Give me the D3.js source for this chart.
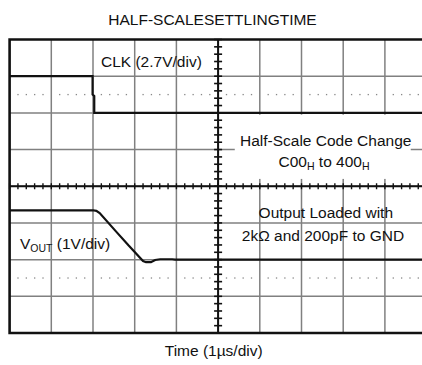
<!DOCTYPE html>
<html><head><meta charset="utf-8">
<script src="https://cdn.jsdelivr.net/npm/d3@7"></script>
<style>body{margin:0;background:#fff}svg{display:block}text{font-family:"Liberation Sans",Arial,sans-serif;fill:#111}</style>
</head><body>
<script>
// time axis in divisions (1 µs/div), level in divisions
const timeDivs = [0,1,2,3,4,5,6,7,8,9,10];
const levelDivs = [-4,-3,-2,-1,0,1,2,3,4];
const clkTime  = [0, 1.99, 1.99, 2.03, 2.03, 10.3];
const clkLevel = [3, 3, 2.5, 2.46, 2.0, 2.0];
const voutTime  = [0, 2.0, 2.08, 2.16, 2.55, 2.85, 2.9, 3.2, 3.27, 3.39, 3.49, 3.61, 3.9, 3.97, 10.3];
const voutLevel = [-0.655, -0.655, -0.67, -0.73, -1.23, -1.61, -1.67, -2.04, -2.07, -2.07, -2.01, -1.99, -1.99, -2.0, -2.0];
const dottedLevels = [2.5, -2.5];
const titleText = "HALF-SCALESETTLINGTIME";
const xLabel = "Time (1\u00B5s/div)";

const W = 422, H = 365;
const svg = d3.select("body").append("svg").attr("width", W).attr("height", H);
const x = d3.scaleLinear().domain([0, 10]).range([9.6, 426.6]);
const y = d3.scaleLinear().domain([-4, 4]).range([333, 39.5]);
const grid = "#808080";

// gridlines
svg.append("g").selectAll("line").data(timeDivs.slice(1)).join("line")
  .attr("x1", d => x(d)).attr("x2", d => x(d)).attr("y1", y(4)).attr("y2", y(-4))
  .attr("stroke", grid).attr("stroke-width", 1.5);
svg.append("g").selectAll("line").data(levelDivs.slice(1, -1)).join("line")
  .attr("x1", x(0)).attr("x2", W).attr("y1", d => y(d)).attr("y2", d => y(d))
  .attr("stroke", grid).attr("stroke-width", 1.5);

// dotted rows
const subs = d3.range(0, 10.01, 0.2).filter(t => Math.abs(t - Math.round(t)) > 0.01);
dottedLevels.forEach(l => {
  svg.append("g").selectAll("rect").data(subs).join("rect")
    .attr("x", d => x(d) - 0.6).attr("y", y(l) - 0.6).attr("width", 1.3).attr("height", 1.3)
    .attr("fill", "#888");
});

// center axes with ticks
svg.append("line").attr("x1", x(5)).attr("x2", x(5)).attr("y1", y(4)).attr("y2", y(-4))
  .attr("stroke", "#111").attr("stroke-width", 2);
svg.append("line").attr("x1", x(0)).attr("x2", W).attr("y1", y(0)).attr("y2", y(0))
  .attr("stroke", "#111").attr("stroke-width", 2);
const ySubs = d3.range(-4, 4.01, 0.2);
svg.append("g").selectAll("line").data(ySubs).join("line")
  .attr("x1", x(5) - 4).attr("x2", x(5) + 4).attr("y1", d => y(d)).attr("y2", d => y(d))
  .attr("stroke", "#111").attr("stroke-width", 1.6);
const xSubs = d3.range(0, 10.01, 0.2);
svg.append("g").selectAll("line").data(xSubs).join("line")
  .attr("x1", d => x(d)).attr("x2", d => x(d)).attr("y1", y(0) - 3).attr("y2", y(0) + 3)
  .attr("stroke", "#111").attr("stroke-width", 1.4);

// white box behind the code-change note
svg.append("rect").attr("x", x(5.4)).attr("y", y(1.95)).attr("width", x(9.62) - x(5.4))
  .attr("height", y(0.2) - y(1.95)).attr("fill", "#fff");

// traces
const line = d3.line().x(d => x(d[0])).y(d => y(d[1]));
svg.append("path").datum(d3.zip(clkTime, clkLevel)).attr("d", line)
  .attr("fill", "none").attr("stroke", "#111").attr("stroke-width", 2.2);
svg.append("path").datum(d3.zip(voutTime, voutLevel)).attr("d", line)
  .attr("fill", "none").attr("stroke", "#111").attr("stroke-width", 2.2);

// border
svg.append("path").attr("d", `M${W},${y(4)}H${x(0)}V${y(-4)}H${W}`)
  .attr("fill", "none").attr("stroke", "#111").attr("stroke-width", 2.6);

// texts
const fs = 15.5;
svg.append("text").attr("x", 212.5).attr("y", 25).attr("text-anchor", "middle").attr("font-size", fs).text(titleText);
svg.append("text").attr("x", 213.7).attr("y", 356).attr("text-anchor", "middle").attr("font-size", fs).text(xLabel);
svg.append("text").attr("x", 101).attr("y", 66.7).attr("font-size", fs).text("CLK (2.7V/div)");
const v = svg.append("text").attr("x", 20).attr("y", 249).attr("font-size", fs);
v.append("tspan").text("V");
v.append("tspan").attr("font-size", 10.5).attr("dy", 3).text("OUT");
v.append("tspan").attr("dy", -3).text(" (1V/div)");
svg.append("text").attr("x", 325.7).attr("y", 145.7).attr("text-anchor", "middle").attr("font-size", fs).text("Half-Scale Code Change");
const c = svg.append("text").attr("x", 324).attr("y", 166.7).attr("text-anchor", "middle").attr("font-size", fs);
c.append("tspan").text("C00");
c.append("tspan").attr("font-size", 10.5).attr("dy", 3).text("H");
c.append("tspan").attr("dy", -3).text(" to 400");
c.append("tspan").attr("font-size", 10.5).attr("dy", 3).text("H");
svg.append("text").attr("x", 325.8).attr("y", 218.3).attr("text-anchor", "middle").attr("font-size", fs).text("Output Loaded with");
svg.append("text").attr("x", 323).attr("y", 241).attr("text-anchor", "middle").attr("font-size", fs).text("2k\u03A9 and 200pF to GND");
</script>
</body></html>
